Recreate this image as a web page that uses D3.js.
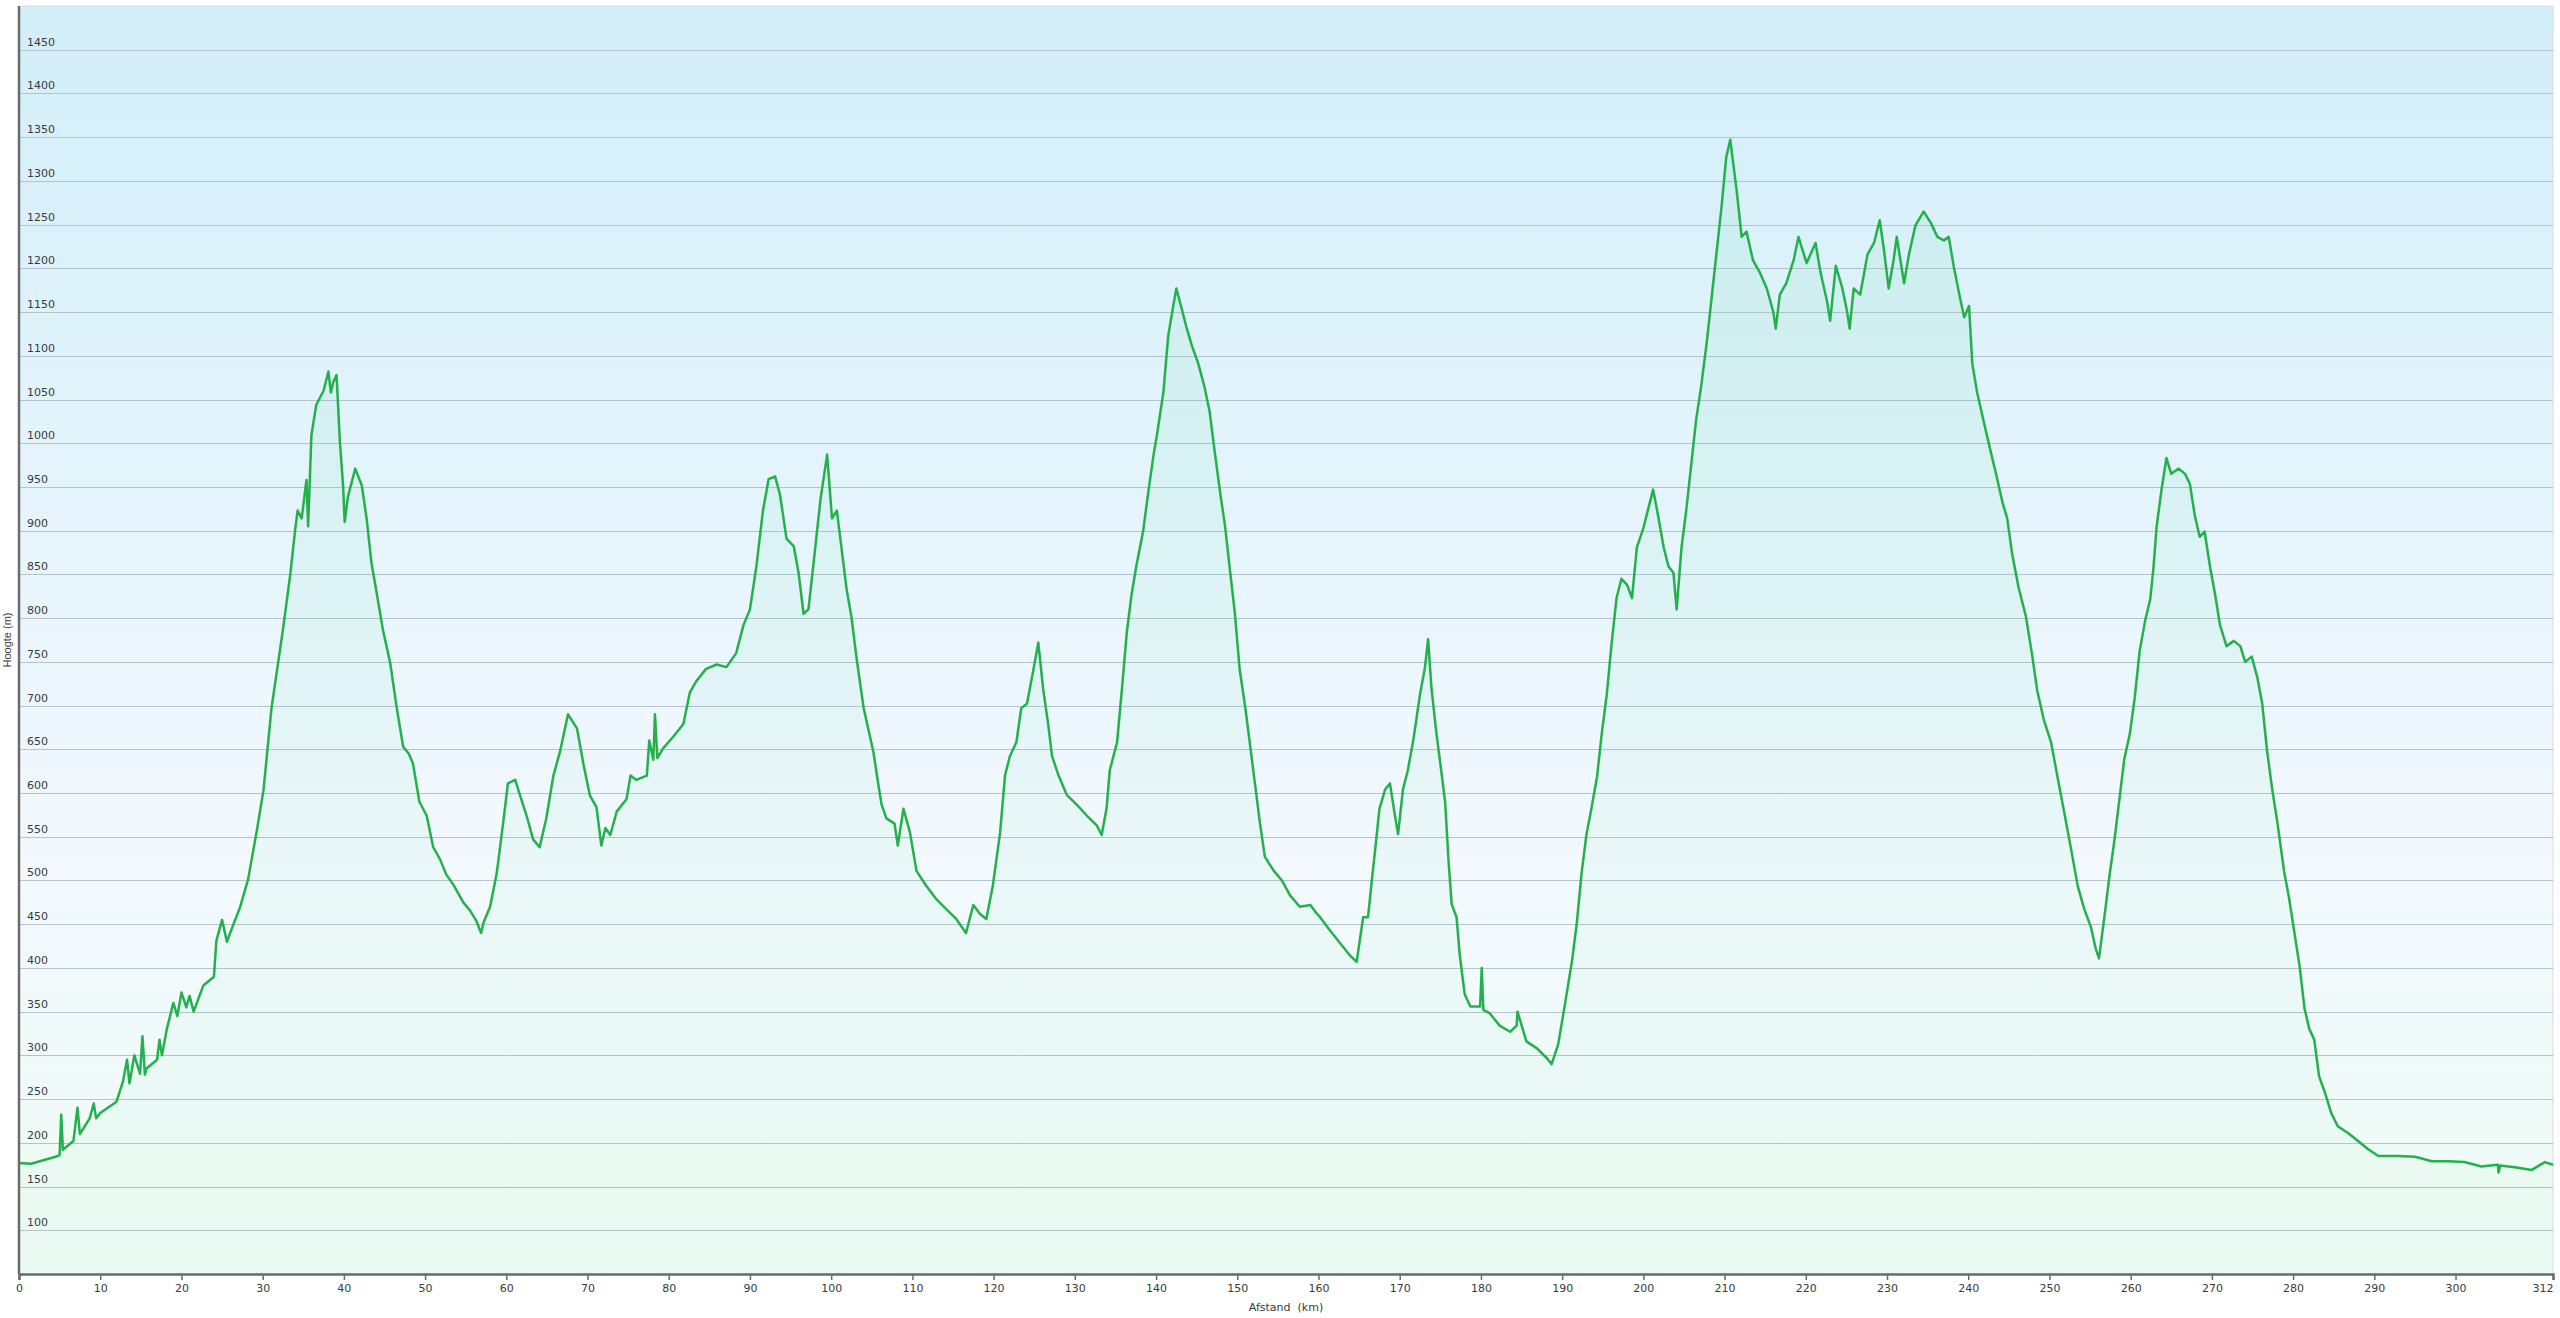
<!DOCTYPE html>
<meta charset="utf-8">
<script src="https://d3js.org/d3.v7.min.js"></script>
<style>
  body { margin: 0; background: #fff; }
  svg { display: block; }
  .lbl { font-family: "DejaVu Sans", Verdana, sans-serif; font-size: 11px; fill: #3a3a3a; }
</style>
<body>
<svg width="2560" height="1318" id="chart"></svg>
<script>

// distance along route (km) and height (m)
var distance = [0, 1.5, 3, 4.5, 5, 5.2, 5.4, 6.7, 7.2, 7.5, 8.7, 9.2, 9.5, 10, 12, 12.8, 13.3, 13.6, 14.2, 14.9,
  15.2, 15.5, 15.7, 17, 17.3, 17.6, 18.2, 19, 19.5, 20, 20.6, 21, 21.5, 22.7, 24, 24.3, 25, 25.6, 26.2, 27.2,
  28.2, 29.3, 30.1, 30.5, 31.1, 31.7, 32.5, 33.4, 34, 34.3, 34.8, 35.4, 35.6, 36, 36.6, 37.5, 38.1, 38.4, 38.7, 39.1,
  39.5, 39.9, 40.1, 40.5, 41.4, 42.2, 42.8, 43.4, 44, 44.8, 45.7, 46.5, 47.3, 48, 48.5, 49.3, 50.2, 51, 51.8, 52.6,
  53.5, 54.7, 55.5, 56.3, 56.9, 57.2, 58, 58.8, 59.6, 60.2, 61.1, 61.7, 62.5, 63.3, 64.1, 64.9, 65.8, 66.6, 67.6, 68.7,
  69.5, 70.3, 71.1, 71.7, 72.2, 72.8, 73.6, 74.8, 75.3, 76, 77.3, 77.6, 78.1, 78.3, 78.6, 79.3, 80.6, 81.8, 82.6, 83.4,
  84.6, 85.9, 87.1, 88.3, 89.2, 90, 90.8, 91.6, 92.3, 93.1, 93.7, 94.5, 95.4, 96, 96.6, 97.2, 97.9, 98.7, 99.5, 100.1,
  100.7, 101.3, 101.9, 102.5, 103.1, 104, 105.2, 105.8, 106.2, 106.8, 107.8, 108.2, 108.9, 109.7, 110.5, 111.7, 113, 114.2, 115.4, 116.6,
  117.5, 118.3, 119.1, 119.9, 120.8, 121.4, 122, 122.8, 123.4, 124.1, 124.9, 125.5, 126.1, 126.7, 127.2, 128, 129, 130.2, 131.5, 132.7,
  133.3, 133.9, 134.3, 135.2, 135.8, 136.4, 137, 137.6, 138.4, 139.1, 139.7, 140.1, 140.9, 141.5, 142.1, 142.5, 143.1, 143.7, 144.4, 145.2,
  146, 146.6, 147.2, 147.9, 148.5, 149.1, 149.7, 150.3, 151, 151.6, 152.2, 152.8, 153.4, 154.5, 155.5, 156.5, 157.7, 159, 159.8, 160.2,
  161.4, 162.6, 163.9, 164.7, 165.5, 166.1, 166.5, 167.1, 167.5, 168.2, 168.8, 169.4, 169.8, 170.4, 171, 171.7, 172.5, 173.1, 173.5, 173.9,
  174.5, 175.2, 175.6, 176, 176.4, 177, 177.4, 178, 178.7, 179.9, 180.1, 180.3, 181.1, 182.3, 183.6, 184.4, 184.5, 185.6, 186.9, 188.1,
  188.7, 189.5, 190.3, 191.2, 191.8, 192.4, 193, 193.6, 194.3, 194.9, 195.5, 196.1, 196.7, 197.3, 198, 198.6, 199.2, 200, 200.6, 201.2,
  201.8, 202.5, 203.1, 203.7, 204.1, 204.7, 205.3, 205.9, 206.5, 207.1, 207.8, 208.4, 209, 209.6, 210.2, 210.7, 211.5, 212.1, 212.7, 213.5,
  214.3, 215.2, 216, 216.3, 216.8, 217.6, 218.5, 219.1, 220.1, 221.2, 221.8, 222.6, 223, 223.7, 224.5, 225.1, 225.4, 225.9, 226.7, 227.6,
  228.4, 229.1, 229.6, 230.2, 230.8, 231.2, 232.1, 232.7, 233.5, 234.5, 235.4, 236.2, 237, 237.6, 238.2, 238.9, 239.5, 240.1, 240.5, 241.1,
  241.9, 242.7, 243.4, 244.2, 244.8, 245.4, 246.2, 247.1, 247.9, 248.5, 249.3, 250.2, 251, 251.8, 252.6, 253.5, 254.3, 255.1, 255.7, 256.1,
  256.8, 257.4, 258, 258.6, 259.2, 259.9, 260.5, 261.1, 261.8, 262.4, 262.8, 263.2, 263.8, 264.4, 265, 265.9, 266.7, 267.3, 267.9, 268.5,
  269.1, 269.8, 270.4, 271, 271.8, 272.7, 273.5, 274.1, 274.9, 275.6, 276.2, 276.8, 277.4, 278.1, 278.9, 279.5, 280.1, 280.8, 281.4, 282,
  282.6, 283.2, 283.9, 284.7, 285.5, 286.8, 288, 289.2, 290.5, 292.9, 295, 297.1, 299.1, 301.1, 303.2, 305.2, 305.3, 305.5, 307.3, 309.4,
  311, 312];

var height = [177, 176, 180, 184, 186, 232, 192, 202, 240, 210, 228, 245, 228, 234, 247, 270, 295, 268, 300, 279,
  322, 278, 285, 295, 318, 300, 330, 360, 345, 372, 355, 368, 350, 380, 390, 431, 455, 430, 445, 469,
  501, 558, 603, 641, 698, 736, 787, 850, 901, 923, 914, 958, 905, 1009, 1044, 1060, 1082, 1058, 1070, 1078,
  1003, 952, 910, 939, 971, 952, 914, 863, 831, 787, 749, 698, 653, 645, 634, 590, 574, 538, 525, 507,
  495, 475, 466, 454, 440, 452, 470, 507, 565, 611, 615, 597, 574, 547, 538, 570, 620, 647, 690, 674,
  633, 597, 584, 540, 560, 552, 579, 593, 620, 615, 620, 660, 638, 690, 640, 651, 665, 679, 715, 728,
  742, 747, 744, 760, 792, 810, 860, 923, 959, 962, 941, 891, 882, 851, 805, 810, 869, 937, 987, 914,
  923, 878, 833, 801, 756, 697, 647, 610, 587, 571, 565, 540, 582, 555, 511, 494, 478, 467, 456, 440,
  472, 462, 456, 494, 555, 620, 642, 658, 697, 702, 741, 772, 719, 680, 642, 620, 598, 587, 574, 563,
  552, 582, 626, 658, 719, 784, 828, 861, 899, 948, 987, 1009, 1058, 1123, 1156, 1177, 1156, 1134, 1112, 1091,
  1063, 1036, 992, 943, 905, 855, 806, 741, 697, 653, 609, 565, 527, 511, 500, 483, 470, 472, 462, 458,
  443, 429, 414, 407, 458, 458, 494, 546, 582, 604, 611, 575, 553, 604, 626, 662, 713, 743, 776, 721,
  670, 619, 589, 524, 473, 458, 414, 370, 356, 356, 400, 352, 348, 334, 327, 334, 350, 316, 308, 297,
  290, 312, 356, 407, 451, 509, 553, 582, 619, 670, 713, 772, 823, 845, 838, 823, 881, 903, 925, 947,
  918, 881, 859, 852, 810, 881, 925, 976, 1027, 1064, 1115, 1166, 1217, 1268, 1327, 1347, 1288, 1236, 1242, 1209,
  1196, 1177, 1150, 1131, 1170, 1183, 1209, 1236, 1206, 1229, 1196, 1163, 1140, 1203, 1177, 1150, 1131, 1177, 1170, 1216,
  1229, 1255, 1223, 1177, 1209, 1236, 1183, 1216, 1249, 1265, 1252, 1236, 1232, 1236, 1203, 1170, 1144, 1157, 1091, 1058,
  1025, 993, 966, 933, 914, 874, 835, 802, 756, 717, 684, 658, 618, 579, 539, 493, 467, 447, 422, 411,
  461, 506, 546, 592, 638, 668, 709, 762, 798, 821, 857, 905, 947, 983, 965, 971, 965, 953, 917, 893,
  899, 857, 827, 792, 768, 774, 768, 750, 756, 732, 702, 648, 606, 564, 510, 480, 444, 402, 354, 330,
  318, 276, 258, 234, 219, 211, 202, 193, 185, 185, 184, 179, 179, 178, 173, 175, 166, 174, 172, 169,
  178, 175];

var xTicks = [0, 10, 20, 30, 40, 50, 60, 70, 80, 90, 100, 110, 120, 130, 140, 150, 160, 170, 180, 190,
  200, 210, 220, 230, 240, 250, 260, 270, 280, 290, 300, 312];
var yTicks = d3.range(100, 1451, 50);

var xTitle = "Afstand  (km)";
var yTitle = "Hoogte (m)";

var data = distance.map(function(d, i) { return {km: d, h: height[i]}; });

var svg = d3.select("#chart"),
    margin = {top: 6, right: 7, bottom: 44, left: 19},
    width = +svg.attr("width") - margin.left - margin.right,
    plotH = +svg.attr("height") - margin.top - margin.bottom,
    g = svg.append("g").attr("transform", "translate(" + margin.left + "," + margin.top + ")");

var x = d3.scaleLinear().domain([0, 312]).range([0, width]);
var y = d3.scaleLinear().domain([50, 1500]).range([plotH, 0]);

// background gradient (sky to pale green)
var defs = svg.append("defs");
var bg = defs.append("linearGradient").attr("id", "bg")
    .attr("x1", 0).attr("y1", 0).attr("x2", 0).attr("y2", 1);
bg.append("stop").attr("offset", "0%").attr("stop-color", "#d2eef9");
bg.append("stop").attr("offset", "68%").attr("stop-color", "#f3f9fe");
bg.append("stop").attr("offset", "100%").attr("stop-color", "#eefcf4");

var ag = defs.append("linearGradient").attr("id", "areaFill")
    .attr("x1", 0).attr("y1", 0).attr("x2", 0).attr("y2", 1);
ag.append("stop").attr("offset", "0%").attr("stop-color", "#3ccf86").attr("stop-opacity", 0.09);
ag.append("stop").attr("offset", "100%").attr("stop-color", "#3ccf86").attr("stop-opacity", 0.025);

g.append("rect")
    .attr("width", width)
    .attr("height", plotH)
    .attr("fill", "url(#bg)")
    .attr("stroke", "#d6dde0")
    .attr("stroke-width", 1);

// horizontal grid
g.append("g")
  .selectAll("line")
  .data(yTicks)
  .join("line")
    .attr("x1", 0)
    .attr("x2", width)
    .attr("y1", function(d) { return Math.round(y(d)) + 0.5; })
    .attr("y2", function(d) { return Math.round(y(d)) + 0.5; })
    .attr("stroke", "#b3c4cc")
    .attr("stroke-width", 1.2);

// y labels sit inside the plot, just above each grid line
g.append("g")
  .selectAll("text")
  .data(yTicks)
  .join("text")
    .attr("class", "lbl")
    .attr("x", 8)
    .attr("y", function(d) { return y(d) - 4; })
    .text(function(d) { return d; });

var area = d3.area()
    .x(function(d) { return x(d.km); })
    .y0(y(50))
    .y1(function(d) { return y(d.h); });

var line = d3.line()
    .x(function(d) { return x(d.km); })
    .y(function(d) { return y(d.h); });

g.append("path")
    .datum(data)
    .attr("fill", "url(#areaFill)")
    .attr("d", area);

g.append("path")
    .datum(data)
    .attr("fill", "none")
    .attr("stroke", "#25b04e")
    .attr("stroke-width", 2.5)
    .attr("stroke-linejoin", "round")
    .attr("d", line);

// axes
var xAxis = g.append("g")
    .attr("transform", "translate(0," + plotH + ")")
    .call(d3.axisBottom(x).tickValues(xTicks).tickSize(6).tickPadding(4).tickFormat(d3.format("d")));
xAxis.select(".domain").attr("stroke", "#6b6b6b").attr("stroke-width", 2.5);
xAxis.selectAll(".tick line").attr("stroke", "#6b6b6b").attr("stroke-width", 1.5);
xAxis.selectAll(".tick text").attr("class", "lbl").attr("font-family", null).attr("font-size", null);
// last label (312) is right-aligned against the plot edge
xAxis.selectAll(".tick text").filter(function(d) { return d === 312; }).attr("text-anchor", "end");

g.append("line")
    .attr("x1", 0).attr("x2", 0)
    .attr("y1", 0).attr("y2", plotH)
    .attr("stroke", "#6b6b6b")
    .attr("stroke-width", 2.5);

svg.append("text")
    .attr("class", "lbl")
    .attr("x", margin.left + width / 2)
    .attr("y", 1311)
    .attr("text-anchor", "middle")
    .attr("xml:space", "preserve")
    .text(xTitle);

svg.append("text")
    .attr("transform", "translate(11," + (margin.top + plotH / 2) + ") rotate(-90)")
    .attr("text-anchor", "middle")
    .style("font-family", "'Liberation Sans Narrow', 'Liberation Sans', sans-serif")
    .style("font-size", "11px")
    .style("fill", "#3a3a3a")
    .text(yTitle);

</script>
</body>
